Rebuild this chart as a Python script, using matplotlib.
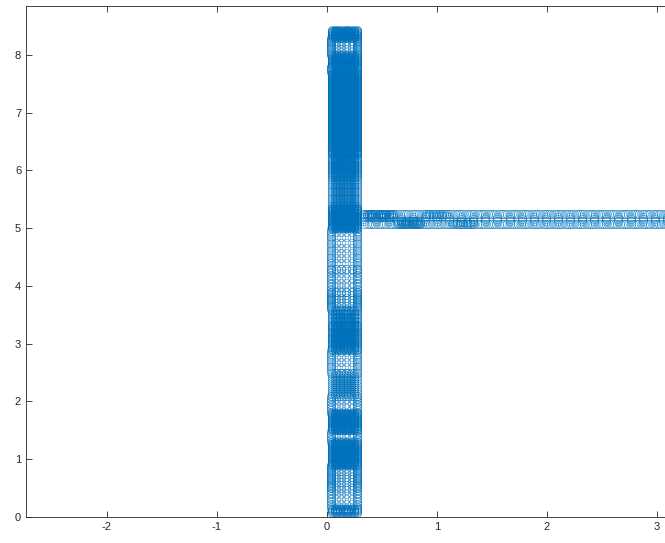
import matplotlib as mpl
mpl.use('Agg')
import matplotlib.pyplot as plt
import numpy as np

mpl.rcParams['font.family'] = ['Liberation Sans', 'DejaVu Sans']

blue = '#0072BD'

# vertical band columns (dense / light parts)
vert_x_dense = [0.045, 0.07, 0.095, 0.12, 0.145, 0.17, 0.195, 0.22, 0.245, 0.27]
vert_x_light = [0.085, 0.13, 0.175, 0.225]
vert_x_edges = [0.04, 0.275]

# vertical band: (y_bottom, y_top, row step, dense?)
vert_rows = [
    (0.07, 0.15, 0.015, True),
    (0.15, 0.50, 0.08, False),
    (0.50, 0.90, 0.05, False),
    (0.90, 1.30, 0.012, True),
    (1.30, 1.50, 0.08, False),
    (1.50, 1.80, 0.012, True),
    (1.80, 2.10, 0.08, False),
    (2.10, 2.50, 0.035, True),
    (2.50, 2.90, 0.09, False),
    (2.90, 3.30, 0.016, True),
    (3.30, 3.60, 0.024, True),
    (3.60, 3.90, 0.05, False),
    (3.90, 4.30, 0.08, False),
    (4.30, 5.00, 0.09, False),
    (5.00, 5.35, 0.01, True),
    (5.35, 5.90, 0.03, True),
    (5.90, 6.30, 0.018, True),
    (6.30, 7.70, 0.009, True),
    (7.70, 7.80, 0.05, False),
    (7.80, 8.00, 0.012, True),
    (8.00, 8.30, 0.05, False),
    (8.30, 8.43, 0.01, True),
]

# horizontal band: (x_left, x_right, y_bottom, y_top, x step, y step)
horiz_blocks = [
    (0.34, 3.30, 5.25, 5.25, 0.02, 0.01),
    (0.34, 3.30, 5.07, 5.07, 0.02, 0.01),
    (0.34, 3.30, 5.12, 5.20, 0.11, 0.04),
    (0.34, 0.60, 5.20, 5.25, 0.02, 0.025),
    (0.65, 0.86, 5.07, 5.12, 0.02, 0.025),
    (0.90, 1.10, 5.21, 5.25, 0.03, 0.04),
    (1.15, 1.35, 5.07, 5.11, 0.03, 0.04),
]

xticks = [-2, -1, 0, 1, 2, 3]
yticks = [0, 1, 2, 3, 4, 5, 6, 7, 8]


def circles(ax, xs, ys):
    ax.plot(xs, ys, 'o', ms=6, mfc='none', mec=blue, mew=0.3, ls='none')


fig = plt.figure(figsize=(6.65, 5.43), dpi=100)
ax = fig.add_axes([26 / 665, 26 / 543, (5.936 * 110) / 665, 511 / 543])

for y0, y1, dy, dense in vert_rows:
    if dense:
        X, Y = np.meshgrid(vert_x_dense, np.arange(y0, y1 + 1e-9, dy))
    else:
        X, Y = np.meshgrid(vert_x_light, np.arange(y0, y1 + 1e-9, dy))
        circles(ax, X.ravel(), Y.ravel())
        X, Y = np.meshgrid(vert_x_edges, np.arange(y0, y1 + 1e-9, dy / 3))
    circles(ax, X.ravel(), Y.ravel())

for x0, x1, y0, y1, dx, dy in horiz_blocks:
    X, Y = np.meshgrid(np.arange(x0, x1 + 1e-9, dx), np.arange(y0, y1 + 1e-9, dy))
    circles(ax, X.ravel(), Y.ravel())

ax.set_xlim(-2.736, 3.2)
ax.set_ylim(0, 8.848)
ax.set_xticks(xticks)
ax.set_xticklabels([str(t) for t in xticks])
ax.set_yticks(yticks)
ax.tick_params(direction='in', top=True, right=True, labelsize=8, colors='#262626',
               length=4, width=0.6)
for s in ax.spines.values():
    s.set_color('#262626')
    s.set_linewidth(0.6)

fig.savefig('out.png', dpi=100)
